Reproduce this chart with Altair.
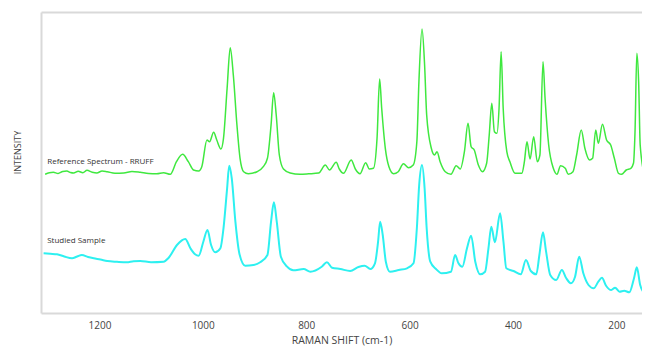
import altair as alt
import pandas as pd

# Reference spectrum (RRUFF) - Raman shift (cm-1) and intensity (arbitrary units)
ref_shift = [1305, 1297, 1289, 1280, 1271, 1263, 1256, 1250, 1241, 1232, 1224, 1214, 1205, 1195, 1185,
             1170, 1153, 1137, 1121, 1105, 1089, 1076, 1063, 1051, 1039, 1028, 1018,
             1008, 1002, 992, 987, 979, 973, 965, 960, 953, 947, 941, 934, 928, 921, 912, 895, 883, 875,
             868, 863, 858, 852, 844, 831, 812, 795, 776, 763, 755, 742, 736, 728, 713, 705, 696, 685, 678,
             670, 663, 658, 654, 647, 640, 631, 622, 612, 602, 593, 586, 582, 576, 571, 567, 558, 552,
             547, 541, 531, 520, 510, 502, 494, 487, 481, 475, 467, 459, 451, 446, 441, 436, 431, 427,
             423, 419, 412, 406, 396, 383, 378, 373, 367, 360, 353, 348, 342, 338, 331, 322, 315, 308,
             299, 293, 284, 277, 268, 261, 252, 246, 240, 235, 227, 219, 211, 204, 196, 190, 181, 172,
             167, 164, 160.5, 157, 154, 146]
ref_int = [138.7, 140.2, 140.7, 139.5, 141.5, 142, 140.5, 140, 141.8, 140.3, 142.7, 140.8, 140, 142, 141.3,
           139.8, 140, 141.5, 140.7, 139.5, 139.3, 140.3, 138.7, 151.3, 158.7, 151.3, 143,
           142, 146.3, 173, 171.3, 180.7, 173, 164, 174.7, 224.7, 265.3, 238, 188, 154.7, 141.3, 139.3,
           141.3, 146.3, 154.7, 188, 220.3, 198, 158, 144, 140, 138.7, 139.2, 140, 148, 143, 150.7, 144, 139.7,
           153, 144, 139.3, 150.3, 144, 144.7, 174.7, 234, 204.7, 164.7, 146.3, 139.3, 141.3, 149.3,
           145.3, 148, 171.3, 231.3, 284, 248, 198, 164.7, 158, 161.3, 151.3, 141.3, 138.7, 147.3, 144,
           161.3, 189.7, 166.3, 163, 148, 141.3, 149.7, 178, 209.7, 181.3, 179.7, 204.7, 261.3, 204.7,
           161.3, 151.3, 139.7, 139.7, 151.3, 171.3, 154, 176.3, 151.3, 158, 251.3, 214.7, 168, 144.7,
           138.7, 147.3, 144.7, 138.7, 141.3, 158, 183, 164.7, 153, 154.7, 183, 169.7, 188.7, 173, 168,
           154.7, 139.7, 138.7, 143, 144.7, 149.7, 181.3, 259.7, 231.3, 168, 138.7]

# Studied sample
smp_shift = [1308, 1295, 1282, 1268, 1253, 1243, 1234, 1222, 1211, 1198, 1185, 1166, 1147, 1134, 1121,
             1100, 1076, 1066, 1050, 1034, 1024, 1015, 1008,
             999, 991, 984, 976, 966, 960, 953, 949, 944, 937, 929, 918, 902, 889, 875, 868, 862.5, 857,
             849, 837, 825, 805, 792, 770, 760, 750, 734, 715, 699, 687, 676, 667, 661, 657, 652, 646,
             638, 621, 605, 592.5, 586, 581.5, 576, 571, 567, 560, 549, 538, 520, 512, 505.5, 498, 489,
             481, 473, 463.5, 454, 447.5, 442, 435, 425, 418.5, 413, 399, 385, 375, 365.5, 355, 349, 342,
             336, 328, 316.5, 305.5, 297, 288, 280, 272, 264, 254, 244, 235, 228, 220, 210, 202.5, 194,
             185, 175, 166, 160.5, 154, 146, 135]
smp_int = [59.7, 59.2, 58.7, 56.5, 54.7, 56.5, 58, 56, 54.7, 53.5, 52, 51.2, 50.7, 51.8, 52,
           50.8, 51.3, 55.3, 68, 74, 64.7, 58.7, 57.3, 71.3, 83,
           68, 60.7, 64.7, 84.7, 124.7, 147.3, 134.7, 91.3, 58.7, 47.3, 48, 50.7, 58, 91.3, 110.7, 91.3,
           56.3, 46.3, 42.7, 44, 41.3, 46.3, 50.7, 45.3, 44, 42, 46, 47.3, 44, 49.7, 71.3, 91.3, 78,
           51.3, 41.3, 43, 44.7, 49.7, 84.7, 128, 148, 124.7, 84.7, 51.3, 44, 39.7, 41.3, 58, 49.7,
           46.3, 64.7, 77.3, 51.3, 38.7, 41.3, 64.7, 86.3, 70.7, 99.7, 71.3, 44.7, 42, 38.7, 53, 42,
           38.7, 58, 80.7, 61.3, 38, 33, 43, 34.7, 29.7, 36.3, 56.3, 39.7, 28, 24.7, 31.3, 35.3, 27.3,
           23, 25.3, 21.3, 22.3, 20.7, 34.7, 45.7, 28, 19.7, 16.3]

series_names = ["Reference Spectrum - RRUFF", "Studied Sample"]
series_colors = ["#3fe83f", "#2df0f0"]
series_widths = [1.5, 2.0]
label_shift = [1301, 1301]
label_int = [151, 72.5]
x_ticks = [1200, 1000, 800, 600, 400, 200]

labels = pd.DataFrame({"shift": label_shift, "intensity": label_int, "text": series_names})

FONT = "Open Sans"
FRAME = "#d9d9d9"

x_scale = alt.Scale(domain=[1313, 150.5], nice=False, zero=False)
y_scale = alt.Scale(domain=[0, 301], nice=False, zero=False)

x_enc = alt.X("shift:Q", scale=x_scale, title="RAMAN SHIFT (cm-1)",
              axis=alt.Axis(values=x_ticks, format="d", grid=False, ticks=False,
                            domain=True, domainColor=FRAME, domainWidth=2,
                            labelFont=FONT, labelFontSize=10, labelColor="#444444",
                            labelPadding=7, titleFont=FONT, titleFontSize=10.5, titleFontWeight="normal",
                            titleColor="#444444", titleY=27, titleBaseline="middle"))
y_enc = alt.Y("intensity:Q", scale=y_scale, title="INTENSITY",
              axis=alt.Axis(values=[301], labels=False, ticks=False, grid=True, gridColor=FRAME,
                            gridWidth=2, domain=True, domainColor=FRAME, domainWidth=2,
                            titleFont=FONT, titleFontSize=9, titleFontWeight="normal",
                            titleColor="#444444", titleX=-24, titleY=140, titleBaseline="middle"))

def spectrum(xs, ys, color, width):
    d = pd.DataFrame({"shift": xs, "intensity": ys})
    return alt.Chart(d).mark_line(strokeWidth=width, color=color, clip=True,
                                  interpolate="monotone").encode(x=x_enc, y=y_enc)

ref_line = spectrum(ref_shift, ref_int, series_colors[0], series_widths[0])
smp_line = spectrum(smp_shift, smp_int, series_colors[1], series_widths[1])

text = alt.Chart(labels).mark_text(align="left", baseline="middle", font=FONT, fontSize=8,
                                   color="#333333").encode(
    x=alt.X("shift:Q", scale=x_scale),
    y=alt.Y("intensity:Q", scale=y_scale),
    text="text:N",
)

chart = (ref_line + smp_line + text).properties(
    width=601, height=301,
    autosize=alt.AutoSizeParams(type="none"),
    padding={"left": 33, "top": 4, "right": 0, "bottom": 33},
    background="#ffffff",
).configure_view(strokeWidth=0)

chart.save("out.html", embed_options={"renderer": "svg", "actions": False})
